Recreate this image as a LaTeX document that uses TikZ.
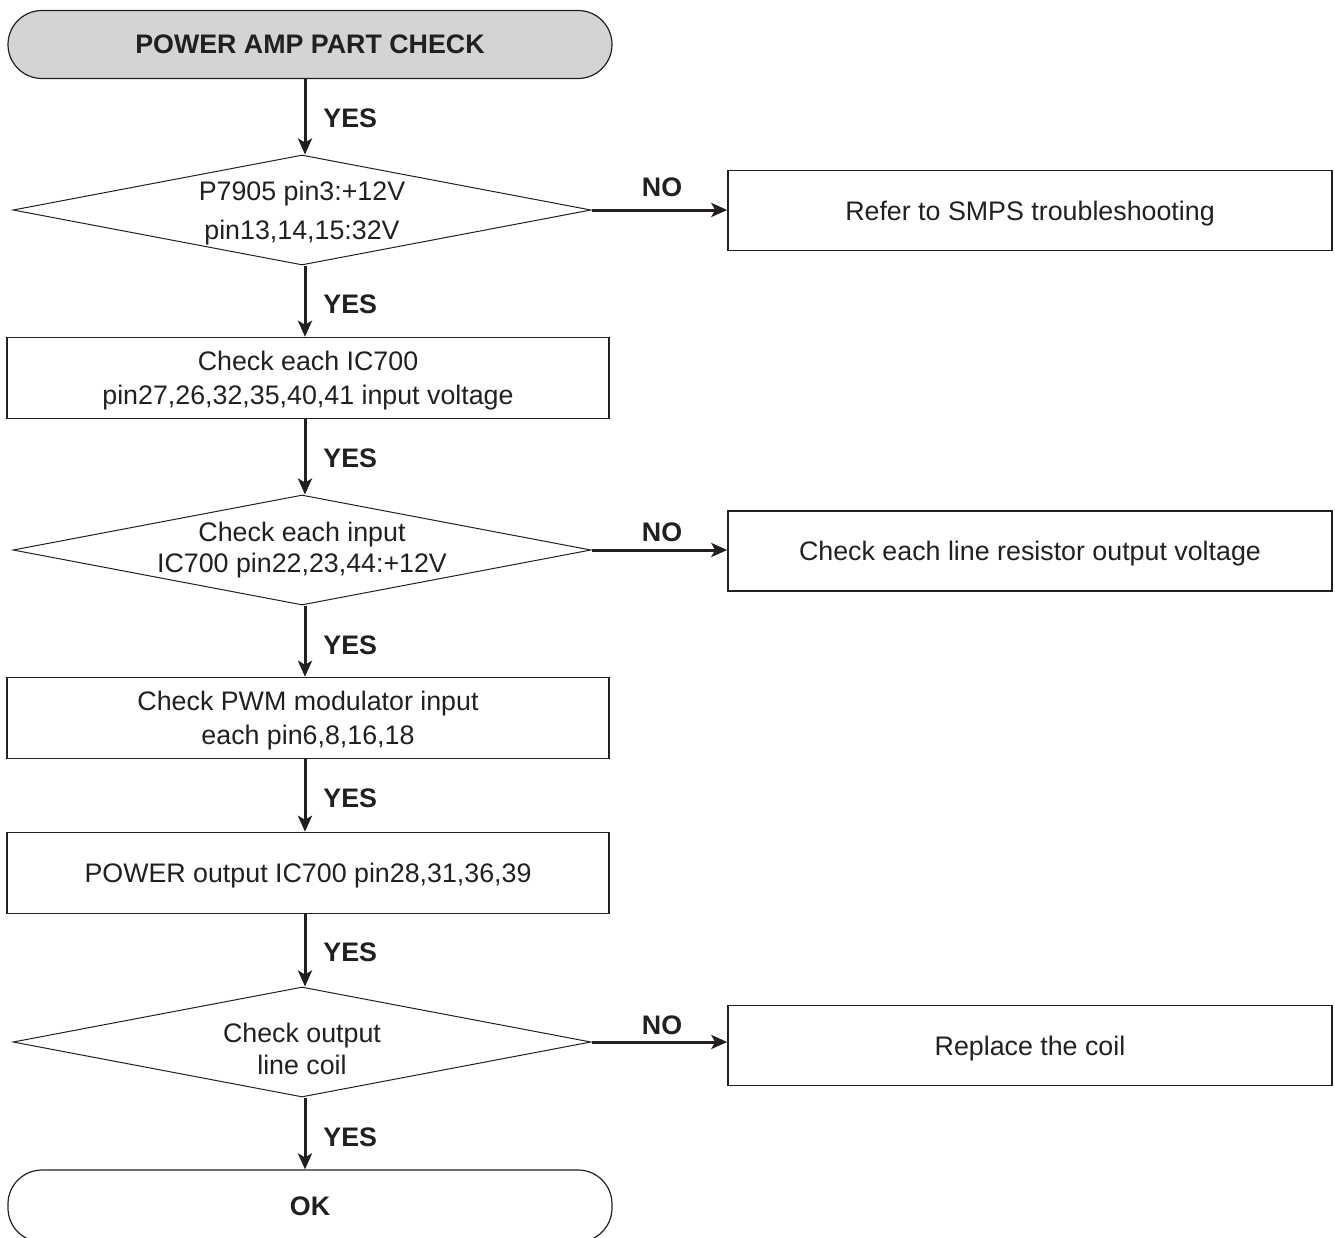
\documentclass[tikz,border=0pt]{standalone}
\usepackage{fontspec}
\setmainfont{Liberation Sans}
\usetikzlibrary{shapes.geometric,arrows.meta}
\definecolor{ink}{RGB}{35,31,32}
\definecolor{termfill}{RGB}{211,212,214}
\begin{document}
\begin{tikzpicture}[x=0.5pt,y=-0.5pt,
  every node/.style={font=\fontsize{13.4}{17}\selectfont, text=ink, inner sep=0pt},
  term/.style={draw=ink, line width=0.6pt, rounded corners=17pt,
    minimum width=302pt, minimum height=34pt, font=\fontsize{13.4}{17}\selectfont\bfseries},
  stepbox/.style={draw=ink, line width=0.75pt, minimum width=301pt, minimum height=40.5pt,
    align=center, text depth=0pt},
  sidebox/.style={draw=ink, line width=0.75pt, minimum width=302pt, minimum height=40pt,
    align=center, text depth=0pt},
  decision/.style={diamond, draw=ink, line width=0.5pt, minimum width=289pt,
    minimum height=55pt, inner sep=0pt},
  dtext/.style={align=center},
  flow/.style={draw=ink, line width=1.5pt, -{Stealth[length=8pt,width=7pt,inset=2pt]}},
  lab/.style={font=\fontsize{13.4}{17}\selectfont\bfseries}
]
\clip (0,0) rectangle (1335,1238);
\useasboundingbox (0,0) rectangle (1335,1238);

% start terminal
\node[term, fill=termfill] (start) at (310,44.5) {POWER AMP PART CHECK};

% first decision: supply voltages
\node[decision] (d1) at (302,210) {};
\node[dtext, font=\fontsize{13.4}{19.5}\selectfont, yshift=-1.5pt] (d1t) at (d1) {P7905 pin3:+12V\\pin13,14,15:32V};
\node[sidebox] (r1) at (1030,210.5) {Refer to SMPS troubleshooting};

% IC input voltage check
\node[stepbox] (b2) at (308,378) {Check each IC700\\pin27,26,32,35,40,41 input voltage};

% second decision
\node[decision] (d2) at (302,550) {};
\node[dtext, font=\fontsize{13.4}{15.5}\selectfont] (d2t) at (d2) {Check each input\\IC700 pin22,23,44:+12V};
\node[sidebox] (r2) at (1030,551) {Check each line resistor output voltage};

% modulator and output stage
\node[stepbox] (b3) at (308,718) {Check PWM modulator input\\each pin6,8,16,18};
\node[stepbox] (b4) at (308,873) {POWER output IC700 pin28,31,36,39};

% third decision
\node[decision] (d3) at (302,1042) {};
\node[dtext, font=\fontsize{13.4}{16}\selectfont, yshift=-3.5pt] (d3t) at (d3) {Check output\\line coil};
\node[sidebox] (r3) at (1030,1045.5) {Replace the coil};

% end terminal, running past the lower edge
\node[term, minimum height=36pt] (ok) at (310,1206) {OK};

% main flow
\draw[flow] (start.south -| 305,0) -- (d1.north -| 305,0);
\draw[flow] (d1.south -| 305,0) -- (b2.north -| 305,0);
\draw[flow] (b2.south -| 305,0) -- (d2.north -| 305,0);
\draw[flow] (d2.south -| 305,0) -- (b3.north -| 305,0);
\draw[flow] (b3.south -| 305,0) -- (b4.north -| 305,0);
\draw[flow] (b4.south -| 305,0) -- (d3.north -| 305,0);
\draw[flow] (d3.south -| 305,0) -- (ok.north -| 305,0);

% NO branches
\draw[flow] (d1.east) -- (d1.east -| r1.west);
\draw[flow] (d2.east) -- (d2.east -| r2.west);
\draw[flow] (d3.east) -- (d3.east -| r3.west);

% branch labels
\foreach \y/\n in {118/y1,304/y2,458/y3,645/y4,798/y5,952/y6,1137/y7}
  \node[lab, anchor=west] (\n) at (323,\y) {YES};
\node[lab] (n1) at (662,187) {NO};
\node[lab] (n2) at (662,532) {NO};
\node[lab] (n3) at (662,1025) {NO};
\end{tikzpicture}
\end{document}
